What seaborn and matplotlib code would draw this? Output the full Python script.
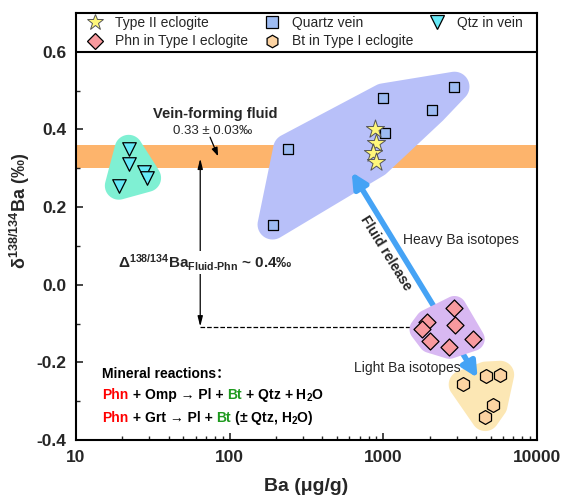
import numpy as np
import matplotlib
matplotlib.use("Agg")
import matplotlib.pyplot as plt
import seaborn as sns
from matplotlib.lines import Line2D
from matplotlib.ticker import FixedLocator, LogLocator, NullFormatter
from matplotlib.offsetbox import TextArea, HPacker, VPacker, AnnotationBbox

# ---- data ----
qtz_in_vein_ba = [22, 22, 27.5, 29, 19]
qtz_in_vein_d = [0.35, 0.31, 0.29, 0.275, 0.255]

quartz_vein_ba = [2900, 1000, 2080, 1030, 240, 190]
quartz_vein_d = [0.51, 0.48, 0.45, 0.39, 0.35, 0.155]

type2_ba = [880, 900, 850, 900]
type2_d = [0.40, 0.365, 0.34, 0.315]

phn_ba = [2900, 1930, 1770, 2930, 3810, 2020, 2690]
phn_d = [-0.06, -0.095, -0.115, -0.105, -0.14, -0.145, -0.16]

bt_ba = [3280, 4640, 5750, 5200, 4600]
bt_d = [-0.257, -0.234, -0.232, -0.311, -0.341]

fluid_mean = 0.33
fluid_err = 0.03
delta_low = -0.108

FONT = ['Liberation Sans', 'DejaVu Sans', 'Noto Sans CJK SC']

sns.set_style("ticks")
plt.rcParams['font.family'] = FONT
plt.rcParams['mathtext.fontset'] = 'custom'
plt.rcParams['mathtext.rm'] = 'Liberation Sans:bold'
plt.rcParams['mathtext.bf'] = 'Liberation Sans:bold'
plt.rcParams['mathtext.it'] = 'Liberation Sans:bold'
plt.rcParams['mathtext.default'] = 'rm'


def convex_hull(points):
    pts = sorted(map(tuple, points))
    def cross(o, a, b):
        return (a[0] - o[0]) * (b[1] - o[1]) - (a[1] - o[1]) * (b[0] - o[0])
    lower, upper = [], []
    for p in pts:
        while len(lower) >= 2 and cross(lower[-2], lower[-1], p) <= 0:
            lower.pop()
        lower.append(p)
    for p in reversed(pts):
        while len(upper) >= 2 and cross(upper[-2], upper[-1], p) <= 0:
            upper.pop()
        upper.append(p)
    return np.array(lower[:-1] + upper[:-1])


def blob(ax, xs, ys, r, color, z):
    # rounded hull around the points, built in pixel space
    pts = ax.transData.transform(np.column_stack([xs, ys]))
    ang = np.linspace(0, 2 * np.pi, 48, endpoint=False)
    circ = np.column_stack([np.cos(ang), np.sin(ang)]) * r
    allp = (pts[:, None, :] + circ[None, :, :]).reshape(-1, 2)
    hull = ax.transData.inverted().transform(convex_hull(allp))
    ax.fill(hull[:, 0], hull[:, 1], color=color, lw=0, zorder=z)


fig = plt.figure(figsize=(5.63, 4.98), dpi=100)
ax = fig.add_axes([0.135, 0.1165, 0.819, 0.8575])
ax.set_xscale('log')
ax.set_xlim(10, 10000)
ax.set_ylim(-0.4, 0.70)

# vein-forming fluid band
ax.axhspan(fluid_mean - fluid_err, fluid_mean + fluid_err, color='#FDB46C', lw=0, zorder=0.5)

blob(ax, qtz_in_vein_ba, qtz_in_vein_d, 14, '#7FF0D3', 1)
blob(ax, quartz_vein_ba + type2_ba, quartz_vein_d + type2_d, 15, '#B8C0F9', 1)
blob(ax, bt_ba, bt_d, 14, '#FCE7B4', 1)
blob(ax, phn_ba, phn_d, 12, '#D8B8F2', 3)

# fluid release arrow (partly under the Phn field)
ax.annotate('', xy=(622, 0.29), xytext=(4100, -0.24),
            arrowprops=dict(arrowstyle='<|-|>,head_length=0.9,head_width=0.45',
                            color='#45A3F5', lw=4, shrinkA=0, shrinkB=0), zorder=2)

sns.scatterplot(x=qtz_in_vein_ba, y=qtz_in_vein_d, marker='v', s=95, color='#66E9F7',
                edgecolor='black', linewidth=0.9, zorder=5, ax=ax)
sns.scatterplot(x=quartz_vein_ba, y=quartz_vein_d, marker='s', s=60, color='#9DBBF2',
                edgecolor='black', linewidth=0.9, zorder=5, ax=ax)
sns.scatterplot(x=type2_ba, y=type2_d, marker='*', s=190, color='#FFF77A',
                edgecolor='#555555', linewidth=0.7, zorder=6, ax=ax)
sns.scatterplot(x=phn_ba, y=phn_d, marker='D', s=75, color='#F89A9E',
                edgecolor='black', linewidth=0.9, zorder=5, ax=ax)
sns.scatterplot(x=bt_ba, y=bt_d, marker='h', s=100, color='#FCD3A2',
                edgecolor='black', linewidth=0.9, zorder=5, ax=ax)

# annotations
ax.text(80.5, 0.44, 'Vein-forming fluid', ha='center', va='center', fontsize=10.5,
        fontweight='bold', zorder=7)
ax.text(77.5, 0.396, '0.33 ± 0.03‰', ha='center', va='center', fontsize=9.5, zorder=7)
ax.annotate('', xy=(84, 0.331), xytext=(74.5, 0.38),
            arrowprops=dict(arrowstyle='-|>,head_length=0.5,head_width=0.18',
                            color='black', lw=0.9, shrinkA=0, shrinkB=0))

ax.annotate('', xy=(64.3, 0.325), xytext=(64.3, delta_low),
            arrowprops=dict(arrowstyle='<|-|>,head_length=0.6,head_width=0.15',
                            color='black', lw=0.9, shrinkA=0, shrinkB=0), zorder=2)
ax.plot([64.3, 1900], [delta_low, delta_low], ls='--', color='black', lw=0.9, zorder=2)
ax.text(18.8, 0.056, r'$\Delta^{138/134}Ba_{Fluid\text{-}Phn}$ ~ 0.4‰', ha='left', va='center',
        fontsize=11, fontweight='bold', zorder=7,
        bbox=dict(facecolor='white', edgecolor='none', pad=1))

ax.text(1031, 0.082, 'Fluid release', rotation=-58.2, rotation_mode='anchor',
        ha='center', va='center', fontsize=10, fontweight='bold', zorder=7)
ax.text(1349, 0.115, 'Heavy Ba isotopes', ha='left', va='center', fontsize=10, zorder=7)
ax.text(3177, -0.214, 'Light Ba isotopes', ha='right', va='center', fontsize=10, zorder=7)

# mineral reactions
def ta(s, color='black'):
    return TextArea(s, textprops=dict(color=color, fontsize=10, fontweight='bold', family=FONT))

row0 = HPacker(children=[ta('Mineral reactions：')], pad=0, sep=0, align='baseline')
row1 = HPacker(children=[ta('Phn', 'red'), ta(' + Omp → Pl + '), ta('Bt', '#1E9A1E'),
                         ta(' + Qtz + H$_2$O')], pad=0, sep=0, align='baseline')
row2 = HPacker(children=[ta('Phn', 'red'), ta(' + Grt → Pl + '), ta('Bt', '#1E9A1E'),
                         ta(' (± Qtz, H$_2$O)')], pad=0, sep=0, align='baseline')
box = VPacker(children=[row0, row1, row2], pad=0, sep=4, align='left')
ab = AnnotationBbox(box, (0.057, 0.03), xycoords='axes fraction', box_alignment=(0, 0),
                    frameon=False, pad=0)
ax.add_artist(ab)

# legend strip at the top
ax.axhline(0.6, color='black', lw=1.5, zorder=8)
handles = [
    Line2D([], [], ls='', marker='*', ms=12, mfc='#FFF77A', mec='#555555', mew=0.7, label='Type II eclogite'),
    Line2D([], [], ls='', marker='D', ms=8, mfc='#F89A9E', mec='black', mew=0.9, label='Phn in Type I eclogite'),
    Line2D([], [], ls='', marker='s', ms=8, mfc='#9DBBF2', mec='black', mew=0.9, label='Quartz vein'),
    Line2D([], [], ls='', marker='h', ms=9, mfc='#FCD3A2', mec='black', mew=0.9, label='Bt in Type I eclogite'),
    Line2D([], [], ls='', marker='v', ms=10, mfc='#66E9F7', mec='black', mew=0.9, label='Qtz in vein'),
]
ax.legend(handles=handles, ncol=3, loc='center left', bbox_to_anchor=(0.014, 0.9545),
          frameon=False, fontsize=10, handlelength=1.4, handletextpad=0.74,
          columnspacing=1.0, borderaxespad=0, labelspacing=0.3, borderpad=0.2)

# axes styling
ax.set_xlabel('Ba (μg/g)', fontsize=14, fontweight='bold')
ax.set_ylabel(r'$\delta^{138/134}Ba$ (‰)', fontsize=13, fontweight='bold')
ax.xaxis.set_label_coords(0.5, -0.09)
ax.yaxis.set_label_coords(-0.095, 0.536)
ax.yaxis.set_major_locator(FixedLocator([-0.4, -0.2, 0.0, 0.2, 0.4, 0.6]))
ax.yaxis.set_minor_locator(FixedLocator([-0.3, -0.1, 0.1, 0.3, 0.5]))
ax.yaxis.set_major_formatter(matplotlib.ticker.FormatStrFormatter('%.1f'))
ax.xaxis.set_major_locator(LogLocator(base=10, numticks=10))
ax.xaxis.set_minor_locator(LogLocator(base=10, subs=np.arange(2, 10), numticks=20))
ax.xaxis.set_minor_formatter(NullFormatter())
ax.xaxis.set_major_formatter(matplotlib.ticker.FuncFormatter(lambda v, p: f'{v:.0f}'))
ax.tick_params(which='both', direction='in', top=False, right=False)
ax.tick_params(which='major', length=5, width=1.2, labelsize=12.5, pad=7)
ax.tick_params(which='minor', length=3, width=1.0)
for lab in ax.get_xticklabels() + ax.get_yticklabels():
    lab.set_fontweight('bold')
for sp in ax.spines.values():
    sp.set_linewidth(1.5)
    sp.set_color('black')
    sp.set_visible(True)

fig.savefig('out.png', dpi=100)
